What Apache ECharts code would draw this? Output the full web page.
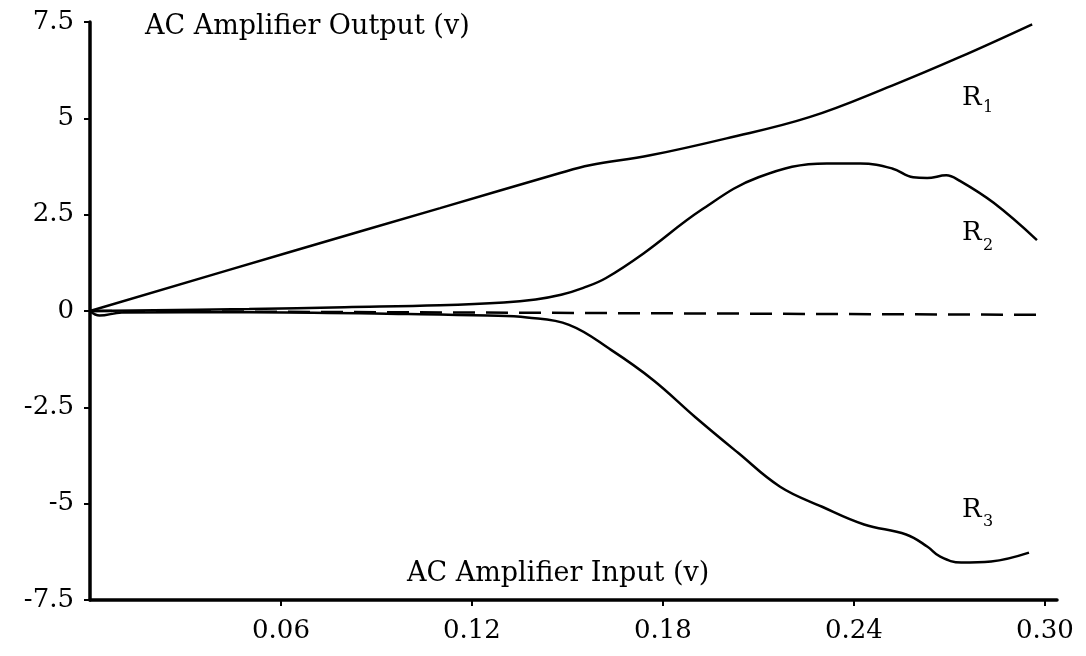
<!DOCTYPE html>
<html>
<head>
<meta charset="utf-8">
<script src="https://cdn.jsdelivr.net/npm/echarts@6/dist/echarts.min.js"></script>
<style>
html,body{margin:0;padding:0;background:#fff;}
#chart{width:1086px;height:656px;}
</style>
</head>
<body>
<div id="chart"></div>
<script>
// ---- data ----
const xTickValues = [0.06, 0.12, 0.18, 0.24, 0.30];
const xTickLabels = ['0.06', '0.12', '0.18', '0.24', '0.30'];
const yTickValues = [-7.5, -5, -2.5, 0, 2.5, 5, 7.5];
const yTickLabels = ['-7.5', '-5', '-2.5', '0', '2.5', '5', '7.5'];

const r1X = [0, 0.0628, 0.110, 0.1477, 0.157, 0.176, 0.200, 0.226, 0.252, 0.273, 0.296];
const r1Y = [0, 1.53, 2.67, 3.58, 3.78, 4.04, 4.48, 5.03, 5.85, 6.58, 7.44];

const r2X = [0, 0.05, 0.08, 0.11, 0.13, 0.14, 0.148, 0.155, 0.162, 0.174, 0.192, 0.210, 0.2315, 0.242, 0.252, 0.2586, 0.263, 0.269, 0.273, 0.284, 0.2975];
const r2Y = [0, 0.05, 0.10, 0.15, 0.22, 0.30, 0.42, 0.60, 0.85, 1.50, 2.62, 3.47, 3.83, 3.83, 3.70, 3.47, 3.45, 3.52, 3.39, 2.80, 1.84];

const r3X = [0, 0.003, 0.01, 0.05, 0.10, 0.125, 0.1373, 0.1505, 0.1637, 0.1769, 0.1901, 0.2036, 0.2168, 0.230, 0.2432, 0.2564, 0.263, 0.267, 0.2737, 0.2831, 0.295];
const r3Y = [0, -0.12, -0.04, -0.03, -0.08, -0.12, -0.17, -0.36, -1.01, -1.79, -2.75, -3.68, -4.56, -5.08, -5.54, -5.80, -6.11, -6.37, -6.53, -6.50, -6.27];

const refX = [0, 0.30];
const refY = [0, -0.10];

const xTitle = 'AC Amplifier Input (v)';
const yTitle = 'AC Amplifier Output (v)';
const curveNames = ['R', 'R', 'R'];
const curveSubs = ['1', '2', '3'];

// ---- build ----
function pairs(xs, ys) { return xs.map((x, i) => [x, ys[i]]); }
const FONT = '"DejaVu Serif", serif';

const chart = echarts.init(document.getElementById('chart'), null, {renderer: 'canvas'});
const lineStyle = {color: '#000', width: 2.5};
const option = {
  animation: false,
  backgroundColor: '#fff',
  grid: {left: 90, right: 29, top: 22, bottom: 56, containLabel: false},
  xAxis: {
    type: 'value', min: 0, max: 0.3038,
    axisLine: {show: true, onZero: false, lineStyle: {color: '#000', width: 3.5}},
    axisTick: {show: true, customValues: xTickValues, length: 6, lineStyle: {color: '#000', width: 2}},
    axisLabel: {
      customValues: xTickValues, margin: 18, color: '#000',
      fontFamily: FONT, fontSize: 26,
      formatter: v => xTickLabels[xTickValues.findIndex(t => Math.abs(t - v) < 1e-6)] || ''
    },
    splitLine: {show: false}
  },
  yAxis: {
    type: 'value', min: -7.5, max: 7.5, interval: 2.5,
    axisLine: {show: true, onZero: false, lineStyle: {color: '#000', width: 3.5}},
    axisTick: {show: true, length: 6, lineStyle: {color: '#000', width: 2}},
    axisLabel: {
      margin: 16, color: '#000', fontFamily: FONT, fontSize: 26,
      formatter: v => yTickLabels[yTickValues.findIndex(t => Math.abs(t - v) < 1e-6)] || ''
    },
    splitLine: {show: false}
  },
  series: [
    {type: 'line', data: pairs(r1X, r1Y), smooth: 0.4, showSymbol: false, lineStyle: lineStyle, z: 3},
    {type: 'line', data: pairs(r2X, r2Y), smooth: 0.4, showSymbol: false, lineStyle: lineStyle, z: 3},
    {type: 'line', data: pairs(r3X, r3Y), smooth: 0.4, showSymbol: false, lineStyle: lineStyle, z: 3},
    {type: 'line', data: pairs(refX, refY), showSymbol: false,
     lineStyle: {color: '#000', width: 2.5, type: [22, 11]}, z: 2}
  ],
  graphic: [
    {type: 'text', x: 145, y: 27, style: {text: yTitle, font: '27px ' + FONT, fill: '#000', align: 'left', verticalAlign: 'middle'}},
    {type: 'text', x: 407, y: 574, style: {text: xTitle, font: '27px ' + FONT, fill: '#000', align: 'left', verticalAlign: 'middle'}},
    {type: 'text', x: 962, y: 98, style: {text: curveNames[0], font: '26px ' + FONT, fill: '#000', align: 'left', verticalAlign: 'middle'}},
    {type: 'text', x: 983, y: 108, style: {text: curveSubs[0], font: '16px ' + FONT, fill: '#000', align: 'left', verticalAlign: 'middle'}},
    {type: 'text', x: 962, y: 233, style: {text: curveNames[1], font: '26px ' + FONT, fill: '#000', align: 'left', verticalAlign: 'middle'}},
    {type: 'text', x: 983, y: 246, style: {text: curveSubs[1], font: '16px ' + FONT, fill: '#000', align: 'left', verticalAlign: 'middle'}},
    {type: 'text', x: 962, y: 510, style: {text: curveNames[2], font: '26px ' + FONT, fill: '#000', align: 'left', verticalAlign: 'middle'}},
    {type: 'text', x: 983, y: 522, style: {text: curveSubs[2], font: '16px ' + FONT, fill: '#000', align: 'left', verticalAlign: 'middle'}}
  ]
};
chart.setOption(option);
</script>
</body>
</html>
